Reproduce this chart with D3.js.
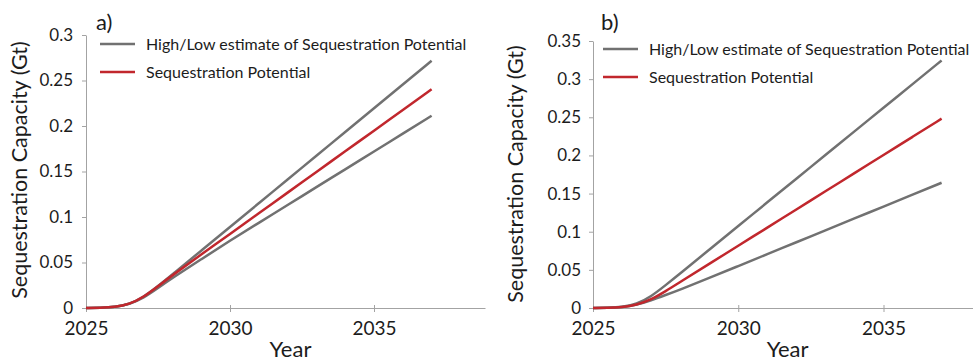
<!DOCTYPE html>
<html>
<head>
<meta charset="utf-8">
<script src="https://cdn.jsdelivr.net/npm/d3@7"></script>
<style>
  html, body { margin: 0; padding: 0; background: #fff; }
  svg { display: block; font-family: Lato, "Open Sans", sans-serif; }
</style>
</head>
<body>
<svg id="chart" width="973" height="363"></svg>
<script>
// Years sampled for every series (denser through the start-up period)
const years = [2025, 2025.5, 2026, 2026.5, 2027, 2027.5, 2028, 2029, 2030, 2031, 2032, 2033, 2034, 2035, 2036, 2037];

// Panel a) sequestration capacity, Gt
const highA = [0, 0.0003, 0.001, 0.004, 0.012, 0.024, 0.037, 0.063, 0.089, 0.1151, 0.1412, 0.1673, 0.1934, 0.2195, 0.2456, 0.2717];
const potentialA = [0, 0.0003, 0.001, 0.004, 0.012, 0.024, 0.036, 0.0587, 0.0814, 0.1041, 0.1268, 0.1495, 0.1722, 0.1949, 0.2176, 0.2403];
const lowA = [0, 0.0003, 0.001, 0.004, 0.011, 0.022, 0.033, 0.0535, 0.074, 0.0936, 0.1132, 0.1328, 0.1524, 0.172, 0.1916, 0.2112];

// Panel b) sequestration capacity, Gt
const highB = [0, 0.0003, 0.001, 0.005, 0.015, 0.030, 0.045, 0.0765, 0.1075, 0.1385, 0.1695, 0.2005, 0.2315, 0.2625, 0.2935, 0.3245];
const potentialB = [0, 0.0003, 0.001, 0.004, 0.011, 0.022, 0.034, 0.0578, 0.0816, 0.1054, 0.1292, 0.153, 0.1768, 0.2006, 0.2244, 0.2482];
const lowB = [0, 0.0003, 0.001, 0.004, 0.010, 0.017, 0.024, 0.0394, 0.055, 0.0706, 0.0862, 0.1018, 0.1174, 0.133, 0.1486, 0.1642];

// Axis ticks and labels
const xTicks = [2025, 2030, 2035];
const yTicksA = [0, 0.05, 0.1, 0.15, 0.2, 0.25, 0.3];
const yLabelsA = ["0", "0.05", "0.1", "0.15", "0.2", "0.25", "0.3"];
const yTicksB = [0, 0.05, 0.1, 0.15, 0.2, 0.25, 0.3, 0.35];
const yLabelsB = ["0", "0.05", "0.1", "0.15", "0.2", "0.25", "0.3", "0.35"];

const legendLabels = ["High/Low estimate of Sequestration Potential", "Sequestration Potential"];
const panelTags = ["a)", "b)"];
const yTitle = "Sequestration Capacity (Gt)";
const xTitle = "Year";

const GREY = "#717171";
const RED = "#c1272d";
const AXIS = "#a3a3a3";
const INK = "#1c1c1c";

const svg = d3.select("#chart");

function drawPanel(p) {
  const x = d3.scaleLinear().domain([2025, p.yearEnd]).range([p.left, p.right]);
  const y = d3.scaleLinear().domain([0, p.yMax]).range([p.bottom, p.top]);
  const g = svg.append("g");

  // x axis
  const xAxis = g.append("g").attr("transform", `translate(0,${p.bottom})`)
    .call(d3.axisBottom(x).tickValues(xTicks).tickFormat(d3.format("d"))
      .tickSizeInner(0).tickSizeOuter(0).tickPadding(14));
  xAxis.select(".domain").attr("stroke", AXIS);
  xAxis.selectAll(".tick line").remove();
  xAxis.selectAll(".tick").append("line")
    .attr("y1", -3).attr("y2", 4).attr("stroke", AXIS);
  xAxis.selectAll("text").attr("fill", INK).attr("font-size", 19)
    .attr("font-family", "Lato, sans-serif");

  // y axis
  const yAxis = g.append("g").attr("transform", `translate(${p.left},0)`)
    .call(d3.axisLeft(y).tickValues(p.yTicks).tickFormat((d, i) => p.yLabels[i])
      .tickSizeInner(4).tickSizeOuter(0).tickPadding(p.tickPad));
  yAxis.select(".domain").attr("stroke", AXIS);
  yAxis.selectAll(".tick line").attr("stroke", AXIS);
  yAxis.selectAll("text").attr("fill", INK).attr("font-size", 17)
    .attr("font-family", "Lato, sans-serif");

  // axis titles
  g.append("text")
    .attr("transform", `translate(${p.yTitleX},${p.yTitleY}) rotate(-90)`)
    .attr("text-anchor", "middle").attr("dominant-baseline", "middle")
    .attr("font-size", 21.5).attr("fill", INK).text(yTitle);
  g.append("text")
    .attr("x", x(p.xTitleYear)).attr("y", 357)
    .attr("text-anchor", "middle").attr("font-size", 22).attr("fill", INK).text(xTitle);

  // panel tag
  g.append("text").attr("x", p.tagX).attr("y", 30)
    .attr("font-size", 22).attr("fill", INK).text(p.tag);

  // series
  const line = d3.line().x(d => x(d[0])).y(d => y(d[1])).curve(d3.curveBasis);
  const series = [
    { v: p.low, c: GREY },
    { v: p.high, c: GREY },
    { v: p.pot, c: RED }
  ];
  series.forEach(s => {
    g.append("path")
      .datum(years.map((yr, i) => [yr, s.v[i]]))
      .attr("fill", "none").attr("stroke", s.c).attr("stroke-width", 2.5)
      .attr("stroke-linejoin", "round").attr("d", line);
  });

  // legend
  const lg = g.append("g").attr("transform", `translate(${p.legX},${p.legY})`);
  [GREY, RED].forEach((c, i) => {
    const row = lg.append("g").attr("transform", `translate(0,${i * 28})`);
    row.append("line").attr("x1", 0).attr("x2", 35).attr("y1", 0).attr("y2", 0)
      .attr("stroke", c).attr("stroke-width", 2.5);
    row.append("text").attr("x", 46).attr("y", 0).attr("dy", "0.35em")
      .attr("font-size", 16).attr("fill", INK).text(legendLabels[i]);
  });
}

drawPanel({
  left: 86, right: 485, yearEnd: 2025 + (485 - 86) / 28.8,
  bottom: 308, top: 35, yMax: 0.3,
  yTicks: yTicksA, yLabels: yLabelsA, tickPad: 9,
  high: highA, pot: potentialA, low: lowA,
  yTitleX: 22, yTitleY: 170, xTitleYear: 2032.1,
  tag: panelTags[0], tagX: 96,
  legX: 100, legY: 44
});

drawPanel({
  left: 593, right: 973, yearEnd: 2025 + (973 - 593) / 29.05,
  bottom: 308, top: 41, yMax: 0.35,
  yTicks: yTicksB, yLabels: yLabelsB, tickPad: 8,
  high: highB, pot: potentialB, low: lowB,
  yTitleX: 518, yTitleY: 174, xTitleYear: 2031.7,
  tag: panelTags[1], tagX: 601,
  legX: 603, legY: 49
});
</script>
</body>
</html>
